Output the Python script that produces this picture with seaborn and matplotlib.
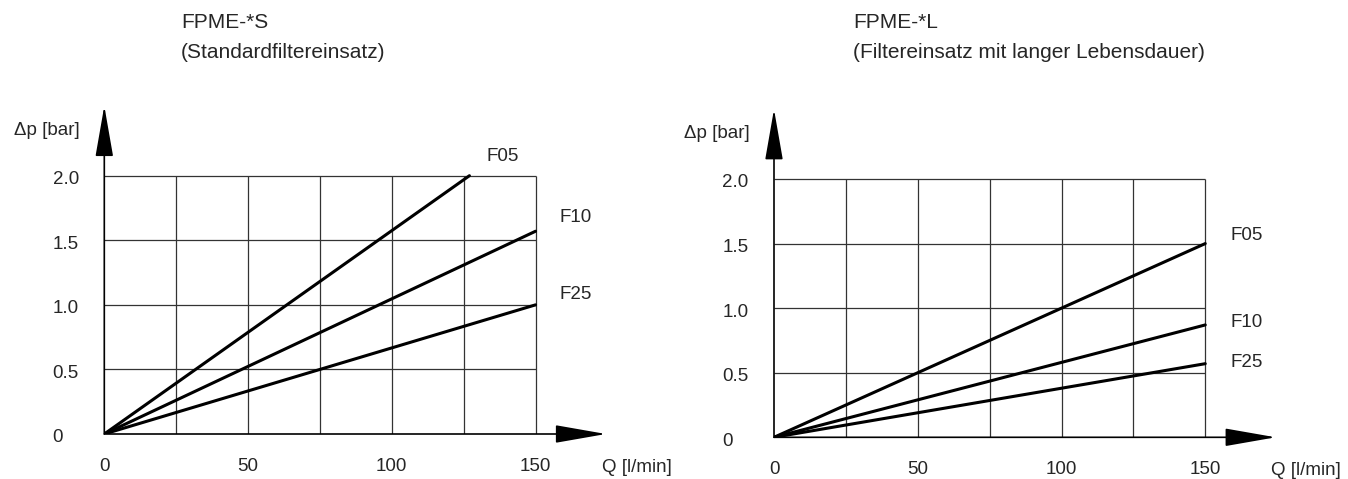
import matplotlib
matplotlib.use("Agg")
import matplotlib.pyplot as plt
import seaborn as sns
import pandas as pd

# end points of each curve (all curves start at Q=0, dp=0)
grades = ['F05', 'F10', 'F25']
q_end_s = [127, 150, 150]
dp_end_s = [2.0, 1.57, 1.0]
q_end_l = [150, 150, 150]
dp_end_l = [1.5, 0.87, 0.57]

x_ticks = [0, 50, 100, 150]
y_ticks = [0, 0.5, 1.0, 1.5, 2.0]
y_tick_labels = ['0', '0.5', '1.0', '1.5', '2.0']
grid_q = [25, 50, 75, 100, 125, 150]
grid_dp = [0.5, 1.0, 1.5, 2.0]

titles = [('FPME-*S', '(Standardfiltereinsatz)'),
          ('FPME-*L', '(Filtereinsatz mit langer Lebensdauer)')]

# where the curve names sit (data coords of each panel)
label_pos = [
    {'F05': (133, 2.15), 'F10': (158.5, 1.68), 'F25': (158.5, 1.08)},
    {'F05': (158.7, 1.56), 'F10': (158.7, 0.89), 'F25': (158.7, 0.576)},
]


def curve_frame(q_end, dp_end):
    rows = []
    for g, q, dp in zip(grades, q_end, dp_end):
        rows.append({'grade': g, 'Q': 0, 'dp': 0})
        rows.append({'grade': g, 'Q': q, 'dp': dp})
    return pd.DataFrame(rows)


def draw_panel(ax, data, labels):
    ax.set_xlim(0, 180)
    ax.set_ylim(0, 2.7)
    ax.set_axis_off()

    # grid
    ax.vlines(grid_q, 0, 2.0, color='#333333', lw=0.9)
    ax.hlines(grid_dp, 0, 150, color='#333333', lw=0.9)

    sns.lineplot(data=data, x='Q', y='dp', units='grade', estimator=None,
                 color='black', lw=2.2, ax=ax, legend=False)

    # axes with arrow heads
    ax.annotate('', xy=(0, 2.54), xytext=(0, 0),
                arrowprops=dict(arrowstyle='-|>,head_length=3.2,head_width=0.56',
                                mutation_scale=10, lw=1.2, color='black',
                                shrinkA=0, shrinkB=0))
    ax.annotate('', xy=(174.5, 0), xytext=(0, 0),
                arrowprops=dict(arrowstyle='-|>,head_length=3.2,head_width=0.56',
                                mutation_scale=10, lw=1.2, color='black',
                                shrinkA=0, shrinkB=0))

    for x in x_ticks:
        ax.text(x, -0.25, str(x), ha='center', va='center', fontsize=13.5)
    for y, lab in zip(y_ticks, y_tick_labels):
        ax.text(-18, y - 0.03, lab, ha='left', va='center', fontsize=13.5)

    ax.text(-8.5, 2.35, '\u0394p [bar]', ha='right', va='center', fontsize=13.5)
    ax.text(173, -0.26, 'Q [l/min]', ha='left', va='center', fontsize=13.5)

    for g, (x, y) in labels.items():
        ax.text(x, y, g, ha='left', va='center', fontsize=13.5)


sns.set_style('white')
plt.rcParams['font.family'] = ['Liberation Sans', 'DejaVu Sans']

W, H = 1348, 479
fig = plt.figure(figsize=(W / 100, H / 100), dpi=100)

px_q, px_dp = 2.875, 129.15
ax_w = 180 * px_q
ax_h = 2.7 * px_dp
origins = [(104.3, 434), (774, 437.3)]
title_x = [181, 853]

for i, (q_end, dp_end) in enumerate([(q_end_s, dp_end_s), (q_end_l, dp_end_l)]):
    ox, oy = origins[i]
    ax = fig.add_axes([ox / W, (H - oy) / H, ax_w / W, ax_h / H])
    draw_panel(ax, curve_frame(q_end, dp_end), label_pos[i])
    fig.text(title_x[i] / W, (H - 23) / H, titles[i][0], ha='left', va='center', fontsize=15)
    fig.text(title_x[i] / W, (H - 53) / H, titles[i][1], ha='left', va='center', fontsize=15)

fig.savefig('out.png', dpi=100)
